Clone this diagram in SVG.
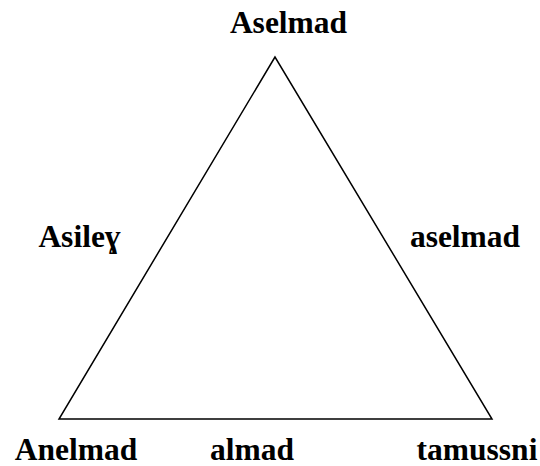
<svg xmlns="http://www.w3.org/2000/svg" width="540" height="466" viewBox="0 0 540 466">
<style>
.t{font-family:"Liberation Serif","Times New Roman",serif;font-weight:bold;font-size:31.5px;fill:#000;text-anchor:middle}
.e{fill:none;stroke:#000;stroke-width:1.5}
</style>
<rect width="540" height="466" fill="#fff"/>
<g id="connectors">
<path class="e" d="M275,57 L59,419 L492,419 Z"/>
</g>
<g id="top"><text class="t" x="288.5" y="33">Aselmad</text></g>
<g id="left"><text class="t" x="79.5" y="247">Asileɣ</text></g>
<g id="right"><text class="t" x="465" y="247">aselmad</text></g>
<g id="bottomleft"><text class="t" x="76" y="460">Anelmad</text></g>
<g id="bottommid"><text class="t" x="252" y="460">almad</text></g>
<g id="bottomright"><text class="t" x="477" y="460">tamussni</text></g>
</svg>
